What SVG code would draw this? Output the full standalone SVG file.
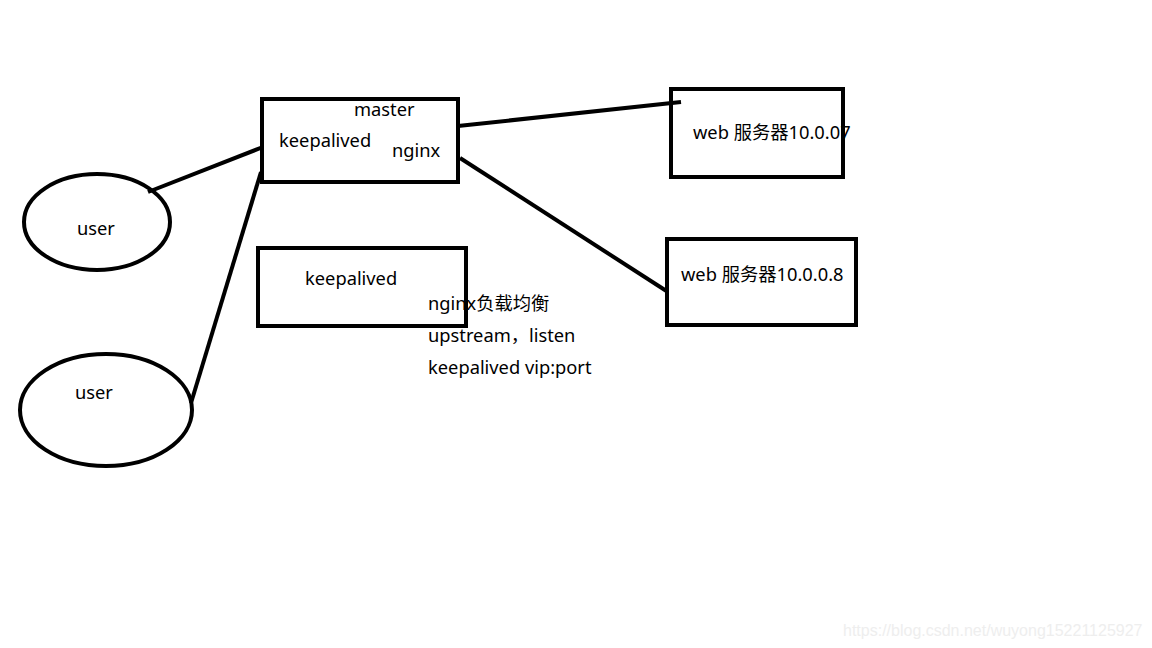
<svg xmlns="http://www.w3.org/2000/svg" width="1152" height="648" viewBox="0 0 1152 648">
<style>
.s{fill:none;stroke:#000;stroke-width:4}
.t{font-family:"Noto Sans","Liberation Sans","Noto Sans CJK SC",sans-serif;font-size:18.3px;fill:#000}
.w{font-family:"Liberation Sans",Arial,sans-serif;font-size:16px;fill:#eeeeee}
</style>
<rect width="1152" height="648" fill="#fff"/>
<g id="connectors">
<line class="s" x1="148" y1="192" x2="263" y2="147"/>
<line class="s" x1="191" y1="403" x2="261" y2="172"/>
<line class="s" x1="458" y1="126" x2="681" y2="102"/>
<line class="s" x1="460" y1="158" x2="668" y2="292"/>
</g>
<g id="master">
<rect class="s" x="262" y="99" width="196" height="83"/>
<text class="t" x="354" y="116">master</text>
<text class="t" x="279" y="147">keepalived</text>
<text class="t" x="392" y="157">nginx</text>
</g>
<g id="backup">
<rect class="s" x="258" y="248" width="208" height="78"/>
<text class="t" x="305" y="285">keepalived</text>
</g>
<g id="web1">
<rect class="s" x="671" y="89" width="172" height="88"/>
<text class="t" x="693" y="139">web 服务器10.0.07</text>
</g>
<g id="web2">
<rect class="s" x="667" y="239" width="189" height="86"/>
<text class="t" x="681" y="281">web 服务器10.0.0.8</text>
</g>
<g id="user1">
<ellipse class="s" cx="97" cy="222" rx="73" ry="48"/>
<text class="t" x="77" y="235">user</text>
</g>
<g id="user2">
<ellipse class="s" cx="106" cy="410" rx="86" ry="56"/>
<text class="t" x="75" y="399">user</text>
</g>
<g id="note">
<text class="t" x="428" y="310">nginx负载均衡</text>
<text class="t" x="428" y="342">upstream，listen</text>
<text class="t" x="428" y="374">keepalived vip:port</text>
</g>
<text class="w" x="843" y="636">https://blog.csdn.net/wuyong15221125927</text>
</svg>
